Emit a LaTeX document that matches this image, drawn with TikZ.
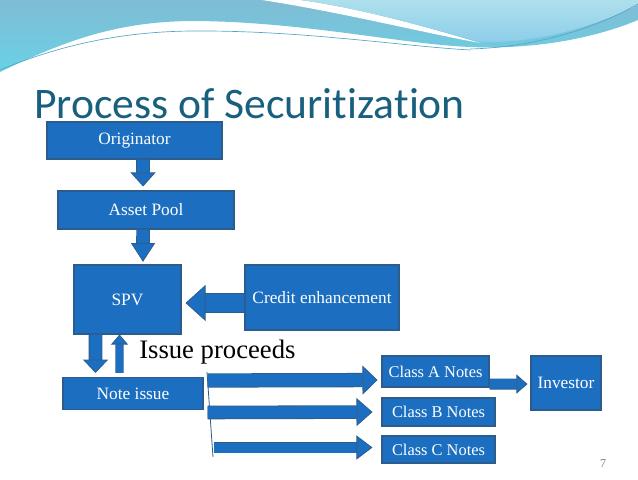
\documentclass[tikz,border=0pt]{standalone}
\usepackage{fontspec}
\setmainfont{Liberation Serif}
\newfontfamily\titlefont[Ligatures=NoCommon]{Carlito}
\usetikzlibrary{arrows.meta}

\definecolor{boxblue}{RGB}{28,111,192}
\definecolor{edgeblue}{RGB}{44,92,140}
\definecolor{titleteal}{RGB}{24,96,126}
\definecolor{waveblue}{RGB}{128,188,212}
\definecolor{wavecyan}{RGB}{104,210,230}
\definecolor{wavepale}{RGB}{174,224,236}
\definecolor{wavesky}{RGB}{140,204,234}
\definecolor{waveline}{RGB}{90,165,196}

\tikzset{
  box/.style={draw=edgeblue, fill=boxblue, line width=0.8pt, text=white, inner sep=0pt, font=\fontsize{13}{15}\selectfont},
  notebox/.style={box, font=\fontsize{12.3}{14}\selectfont},
  fatarrow/.style n args={3}{draw=edgeblue, line width=0.6pt, double=boxblue, double distance=#1, -{Triangle[width=#2, length=#3, fill=boxblue]}},
}

\begin{document}
\begin{tikzpicture}[x=0.75pt, y=-0.75pt]
\useasboundingbox (0,0) rectangle (638,479);
\fill[white] (0,0) rectangle (638,479);

% top wave
\shade[top color=waveblue, bottom color=wavecyan] (0,0) -- (0,72) .. controls (70,38) and (120,22) .. (190,21) .. controls (300,21) and (400,44) .. (470,47) .. controls (540,50) and (600,36) .. (638,20) -- (638,0) -- cycle;
\fill[white] (262,0) .. controls (340,12) and (420,32) .. (480,43) .. controls (430,28) and (360,8) .. (300,0) -- cycle;
\shade[top color=wavepale, bottom color=wavesky] (300,0) .. controls (360,8) and (430,28) .. (480,42) .. controls (540,44) and (600,24) .. (638,5) -- (638,0) -- cycle;
\draw[waveline, line width=0.5pt] (0,70) .. controls (60,45) and (120,32) .. (190,31) .. controls (300,30) and (400,46) .. (470,50);
\draw[waveline, line width=0.5pt] (470,49) .. controls (540,47) and (600,26) .. (638,4);

\node[anchor=base west, inner sep=0pt, text=titleteal, font=\titlefont\fontsize{32.7}{36}\selectfont] (title) at (34,118) {Process of Securitization};

% boxes
\node[box, minimum width=131.25pt, minimum height=27.75pt] (orig) at (134.5,140.5) {Originator};
\node[box, minimum width=132pt, minimum height=28.5pt] (pool) at (146,210) {Asset Pool};
\node[box, minimum width=80.25pt, minimum height=51.75pt] (spv) at (127.5,299.5) {SPV};
\node[box, minimum width=115.5pt, minimum height=48.75pt] (credit) at (322,297.5) {Credit enhancement};
\node[box, minimum width=105pt, minimum height=24pt] (note) at (133,393.5) {Note issue};
\node[notebox, minimum width=80.25pt, minimum height=23.25pt] (classA) at (435.5,371.5) {Class A Notes};
\node[notebox, minimum width=84.75pt, minimum height=21pt] (classB) at (438.5,412) {Class B Notes};
\node[notebox, minimum width=84.75pt, minimum height=20.25pt] (classC) at (438.5,449.5) {Class C Notes};
\node[box, minimum width=52.5pt, minimum height=40.5pt] (inv) at (566,383) {Investor};

\node[anchor=base west, inner sep=0pt, font=\fontsize{20}{24}\selectfont] (proceeds) at (139,358) {Issue proceeds};
\node[anchor=base, inner sep=0pt, text=gray, font=\fontsize{9}{10}\selectfont] (pagenum) at (603,467) {7};

% arrows
\draw[fatarrow={9pt}{18.75pt}{10.5pt}, shorten >=3pt] ([xshift=6.4pt]orig.south) -- ([xshift=-2.2pt]pool.north);
\draw[fatarrow={9pt}{18pt}{14pt}, shorten >=2pt] ([xshift=-2.2pt]pool.south) -- ([xshift=11.6pt]spv.north);
\draw[fatarrow={14pt}{27pt}{15pt}, shorten >=3pt] ([yshift=-4.1pt]credit.west) -- ([yshift=-2.6pt]spv.east);
\draw[fatarrow={9pt}{18.75pt}{10pt}, shorten >=3pt] ([xshift=-24pt]spv.south) -- ([xshift=-28.1pt]note.north);
\draw[fatarrow={5pt}{12.75pt}{7.5pt}, shorten <=3pt] ([xshift=-10.1pt]note.north) -- ([xshift=-6pt]spv.south);

\coordinate (forktop) at (207,372);
\coordinate (forkbot) at (213,457);
\draw[edgeblue, line width=0.6pt] (forktop) -- (forkbot);

\draw[fatarrow={9.5pt}{21.75pt}{11.25pt}, shorten <=3pt, shorten >=3pt] ([yshift=9.75pt]note.east) -- ([yshift=-6.4pt]classA.west);
\draw[fatarrow={9pt}{21pt}{12pt}, shorten <=3pt, shorten >=6.75pt] ([yshift=-14.25pt]note.east) -- (classB.west);
\draw[fatarrow={7.5pt}{18pt}{12pt}, shorten <=7.5pt, shorten >=6.75pt] ([yshift=-40.5pt]note.east) -- ([yshift=1.5pt]classC.west);
\draw[fatarrow={7pt}{14.25pt}{8.25pt}, shorten >=2.25pt] ([yshift=-9.4pt]classA.east) -- ([yshift=-0.8pt]inv.west);
\end{tikzpicture}
\end{document}
